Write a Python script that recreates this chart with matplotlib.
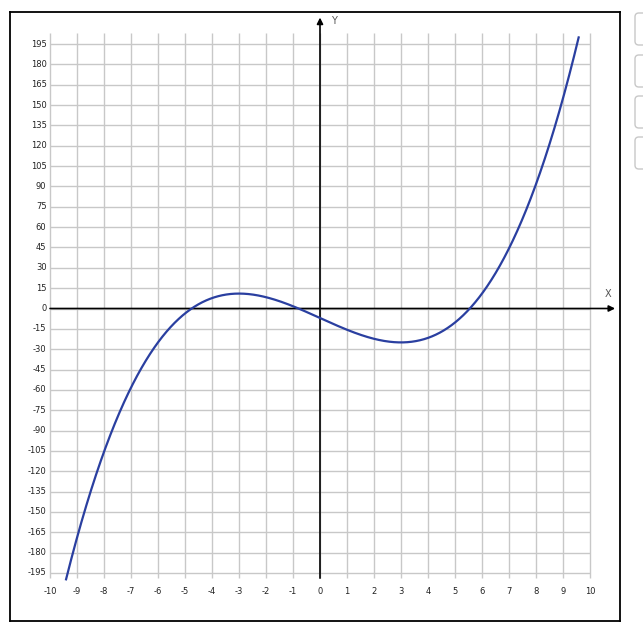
import numpy as np
import matplotlib.pyplot as plt
from matplotlib.patches import FancyBboxPatch

# cubic: max (-3, 11), min (3, -25), f(0) = -7
coef = [1.0 / 3.0, 0.0, -9.0, -7.0]

x_ticks = list(range(-10, 11))
y_ticks = list(range(-195, 196, 15))

curve_x = np.linspace(-10, 10, 4001)
curve_y = np.polyval(coef, curve_x)
curve_y[np.abs(curve_y) > 200] = np.nan

W, H = 643, 635
fig = plt.figure(figsize=(W / 100, H / 100), dpi=100)

# axes box = outer black frame (pixels 10..620 x 12..621)
ax = fig.add_axes([10 / W, 1 - 621 / H, 610 / W, 609 / H])
px_x = 27.0
px_y = 1.3564
ax.set_xlim(-10 - 40 / px_x, 10 + 30 / px_x)
ax.set_ylim(-(621 - 308.5) / px_y, (308.5 - 12) / px_y)
ax.set_xticks([])
ax.set_yticks([])
for s in ax.spines.values():
    s.set_linewidth(1.3)
    s.set_color('black')

grid_top = 203.0
grid_bot = -198.8
ax.vlines(x_ticks, grid_bot, grid_top, color='#c8c8c8', lw=1.0, zorder=1)
ax.hlines(y_ticks, -10, 10, color='#c8c8c8', lw=1.0, zorder=1)

# axes with arrows
ax.annotate('', xy=(10.93, 0), xytext=(-10, 0),
            arrowprops=dict(arrowstyle='-|>', color='black', lw=1.2,
                            mutation_scale=9, shrinkA=0, shrinkB=0), zorder=3)
ax.annotate('', xy=(0, 214.5), xytext=(0, grid_bot),
            arrowprops=dict(arrowstyle='-|>', color='black', lw=1.2,
                            mutation_scale=9, shrinkA=0, shrinkB=0), zorder=3)
ax.text(10.65, 10.5, 'X', fontsize=7, color='#555555', ha='center', va='center')
ax.text(0.5, 212, 'Y', fontsize=7, color='#555555', ha='center', va='center')

for v in y_ticks:
    ax.text(-10.13, v, str(v), fontsize=6, color='#222222',
            ha='right', va='center')
for v in x_ticks:
    ax.text(v, -208.5, str(v), fontsize=6, color='#222222',
            ha='center', va='center')

ax.plot(curve_x, curve_y, color='#2a3fa0', lw=1.6, zorder=4)

# side buttons partly visible at the right edge
for top in [13, 55, 96, 137]:
    fig.patches.append(FancyBboxPatch(
        (635 / W, 1 - (top + 32) / H), 20 / W, 32 / H,
        boxstyle='round,pad=0,rounding_size=0.006',
        transform=fig.transFigure, facecolor='white',
        edgecolor='#c8c8c8', lw=1.0))

fig.savefig('out.png', dpi=100)
